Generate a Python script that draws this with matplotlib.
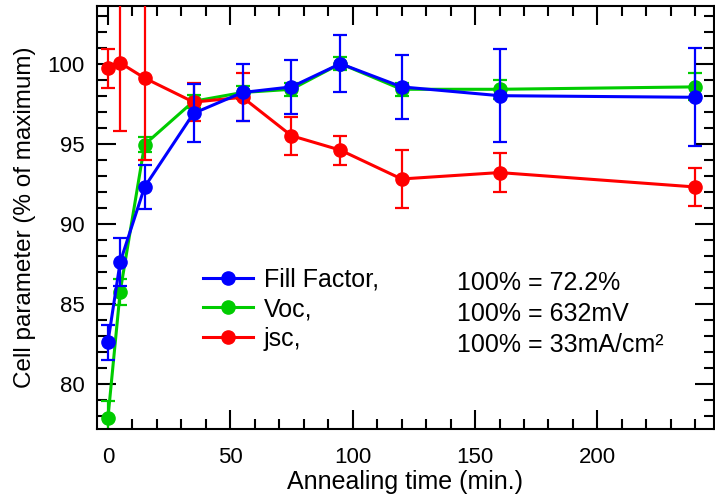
import numpy as np
import matplotlib.pyplot as plt
from matplotlib.lines import Line2D
from matplotlib.ticker import MultipleLocator

plt.rcParams['font.family'] = ['Liberation Sans', 'DejaVu Sans']
plt.rcParams['font.size'] = 16

# annealing times (min.)
t = [0, 5, 15, 35, 55, 75, 95, 120, 160, 240]

# Fill factor
ff = [82.6, 87.6, 92.3, 96.9, 98.2, 98.55, 100.0, 98.55, 98.0, 97.9]
ff_err = [1.08, 1.5, 1.37, 1.8, 1.8, 1.7, 1.8, 2.0, 2.9, 3.05]

# Voc
voc = [77.85, 85.75, 94.95, 97.65, 98.2, 98.4, 100.0, 98.4, 98.4, 98.55]
voc_err = [1.1, 0.8, 0.45, 0.4, 0.4, 0.4, 0.4, 0.4, 0.6, 0.85]

# jsc
jsc = [99.7, 100.05, 99.1, 97.6, 97.9, 95.5, 94.6, 92.8, 93.2, 92.3]
jsc_err = [1.2, 4.25, 5.1, 1.2, 1.5, 1.2, 0.9, 1.8, 1.2, 1.2]

labels = ['Fill Factor,', 'Voc,', 'jsc,']
norms = ['100% = 72.2%', '100% = 632mV', '100% = 33mA/cm²']
colors = ['#0000ff', '#00cc00', '#ff0000']

fig = plt.figure(figsize=(7.15, 5.0), dpi=100)
ax = fig.add_axes([0.1355, 0.1414, 0.863, 0.8466])

kw = dict(marker='o', markersize=9.5, lw=2.2, elinewidth=1.6, capsize=4.7, capthick=1.6)
ax.errorbar(t, ff, yerr=ff_err, color=colors[0], zorder=4, **kw)
ax.errorbar(t, voc, yerr=voc_err, color=colors[1], zorder=2, **kw)
ax.errorbar(t, jsc, yerr=jsc_err, color=colors[2], zorder=3, **kw)

ax.set_xlim(-4.5, 247.6)
ax.set_ylim(77.17, 103.6)
ax.xaxis.set_major_locator(MultipleLocator(50))
ax.xaxis.set_minor_locator(MultipleLocator(10))
ax.yaxis.set_major_locator(MultipleLocator(5))
ax.yaxis.set_minor_locator(MultipleLocator(1))
ax.tick_params(which='both', direction='in', top=True, right=True, width=1.5)
ax.tick_params(which='major', length=14)
ax.tick_params(which='minor', length=7.5)
ax.tick_params(axis='x', which='major', pad=13)
ax.tick_params(axis='y', which='major', pad=9)
for s in ax.spines.values():
    s.set_linewidth(1.5)

ax.set_xlabel('Annealing time (min.)', fontsize=18, labelpad=1)
ax.set_ylabel('Cell parameter (% of maximum)', fontsize=17.5, labelpad=8)

handles = [Line2D([], [], color=c, lw=2.2, marker='o', markersize=9.5) for c in colors]
ax.legend(handles, labels, frameon=False, loc='upper left', fontsize=18,
          bbox_to_anchor=(0.172, 0.382), handlelength=2.0, handletextpad=0.44,
          labelspacing=0.22, borderaxespad=0, borderpad=0)
for i, s in enumerate(norms):
    ax.text(142.8, 86.3 - 1.94 * i, s, va='center', ha='left', fontsize=18)

fig.savefig('out.png', dpi=100)
